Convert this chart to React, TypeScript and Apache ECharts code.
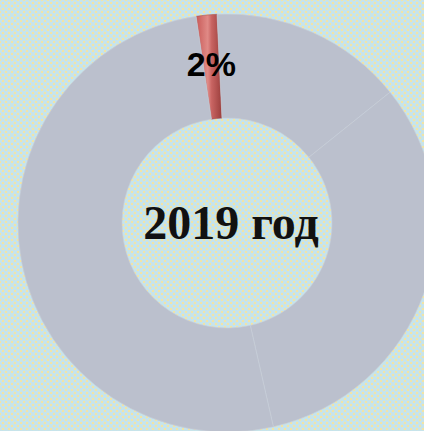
import React, { useEffect, useRef } from "react";
import * as echarts from "echarts";

const categories = ["2019", "Прочее A", "Прочее B", "Прочее C"];
const values = [1.6, 15.0, 32.2, 51.2];
const centerTitle = "2019 год";

export default function App() {
  const ref = useRef<HTMLDivElement>(null);
  useEffect(() => {
    if (!ref.current) return;
    const chart = echarts.init(ref.current, undefined, { renderer: "svg" });
    const red = new echarts.graphic.LinearGradient(0, 0, 1, 0, [
      { offset: 0, color: "#c85a58" },
      { offset: 0.45, color: "#e08a86" },
      { offset: 0.6, color: "#c86462" },
      { offset: 1, color: "#9a3e3c" },
    ]);
    chart.setOption({
      animation: false,
      backgroundColor: "transparent",
      graphic: [
        {
          type: "text",
          x: 231,
          y: 222,
          style: {
            text: centerTitle,
            fontFamily: "Liberation Serif",
            fontWeight: "bold",
            fontSize: 48,
            fill: "#111",
            textAlign: "center",
            textVerticalAlign: "middle",
          },
        },
      ],
      series: [
        {
          type: "pie",
          center: [227, 223],
          radius: [105, 209],
          startAngle: 98.5,
          clockwise: true,
          percentPrecision: 0,
          silent: true,
          labelLine: { show: false },
          emphasis: { disabled: true },
          data: categories.map((name, i) => ({
            name,
            value: values[i],
            itemStyle:
              i === 0
                ? { color: red, borderColor: "#a04a48", borderWidth: 0.5 }
                : { color: "#bbc0cd", borderColor: "rgba(200,206,218,0.8)", borderWidth: 0.8 },
            label:
              i === 0
                ? {
                    show: true,
                    position: "inside",
                    formatter: "{d}%",
                    fontFamily: "Liberation Sans",
                    fontWeight: "bold",
                    fontSize: 34,
                    color: "#000",
                  }
                : { show: false },
          })),
        },
      ],
    });
    return () => chart.dispose();
  }, []);
  return (
    <div
      style={{
        position: "fixed",
        left: 0,
        top: 0,
        width: 424,
        height: 431,
        backgroundColor: "#c6e4ec",
        backgroundImage:
          "radial-gradient(circle, #f2e4a6 1.1px, transparent 1.6px), radial-gradient(circle, #f2e4a6 1.1px, transparent 1.6px)",
        backgroundSize: "6px 6px",
        backgroundPosition: "0 0, 3px 3px",
      }}
    >
      <div ref={ref} style={{ width: 424, height: 431 }} />
    </div>
  );
}
